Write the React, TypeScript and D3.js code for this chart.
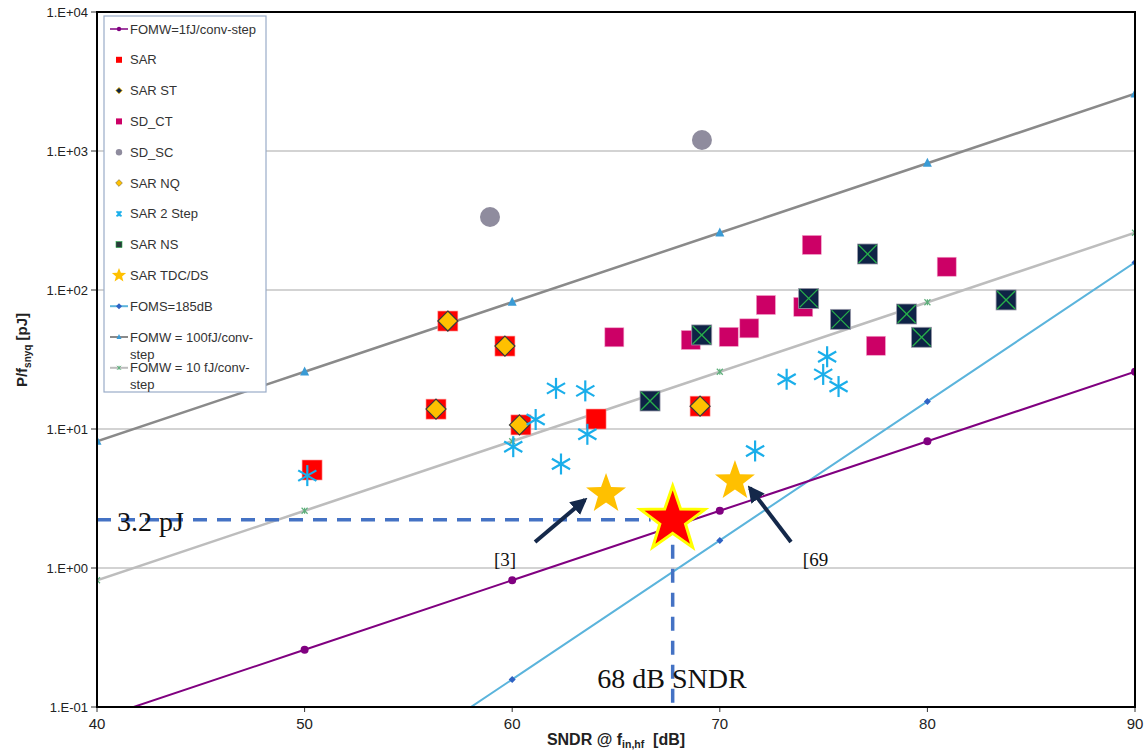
import React from "react";
import * as d3 from "d3";

// ---------- data ----------
const sndrGrid = [40, 50, 60, 70, 80, 90];
const fomw1 = [0.0817, 0.258, 0.817, 2.58, 8.17, 25.8];
const fomw10 = [0.817, 2.58, 8.17, 25.8, 81.7, 258];
const fomw100 = [8.17, 25.8, 81.7, 258, 817, 2580];
const foms185 = [0.00158, 0.0158, 0.158, 1.58, 15.8, 158];

const yTickVals = [0.1, 1, 10, 100, 1000, 10000];
const yTickLabels = ["1.E-01", "1.E+00", "1.E+01", "1.E+02", "1.E+03", "1.E+04"];
const xTickVals = [40, 50, 60, 70, 80, 90];

const sarPts: [number, number][] = [
  [50.36, 5.07], [56.33, 13.9], [56.9, 59.8], [59.65, 39.5], [60.42, 10.7], [64.04, 11.8], [69.05, 14.6],
];
const sarNqPts: [number, number][] = [
  [56.33, 13.9], [56.9, 59.8], [59.65, 39.5], [60.35, 10.7], [69.05, 14.6],
];
const sdCtPts: [number, number][] = [
  [64.92, 45.7], [68.6, 43.7], [70.43, 46], [71.42, 53], [72.22, 78], [74.02, 75.6], [74.43, 211], [77.52, 39.7], [80.93, 147],
];
const sdScPts: [number, number][] = [
  [58.93, 335], [69.14, 1200],
];
const sarNsPts: [number, number][] = [
  [66.64, 15.9], [69.13, 47.5], [74.28, 87], [75.82, 61.5], [77.12, 181.6], [79.0, 67.2], [79.72, 45.7], [83.79, 84.8],
];
const sar2StepPts: [number, number][] = [
  [50.13, 4.62], [60.05, 7.46], [61.13, 11.7], [62.11, 19.6], [62.35, 5.6], [63.52, 18.8], [63.62, 9.16],
  [71.7, 6.95], [73.22, 22.8], [74.98, 24.7], [75.17, 33.1], [75.72, 20.2],
];
const tdcPts: [number, number][] = [
  [64.52, 3.41], [70.73, 4.22],
];
const thisWork: [number, number] = [67.73, 2.22];

const arrows: [number, number, number, number][] = [
  [61.1, 1.54, 63.5, 3.09],
  [73.43, 1.54, 71.45, 3.76],
];

const legendItems = [
  { label: ["FOMW=1fJ/conv-step"], kind: "l1" },
  { label: ["SAR"], kind: "sar" },
  { label: ["SAR ST"], kind: "sarst" },
  { label: ["SD_CT"], kind: "sdct" },
  { label: ["SD_SC"], kind: "sdsc" },
  { label: ["SAR NQ"], kind: "sarnq" },
  { label: ["SAR 2 Step"], kind: "sar2" },
  { label: ["SAR NS"], kind: "sarns" },
  { label: ["SAR TDC/DS"], kind: "tdc" },
  { label: ["FOMS=185dB"], kind: "foms" },
  { label: ["FOMW = 100fJ/conv-", "step"], kind: "l100" },
  { label: ["FOMW = 10 fJ/conv-", "step"], kind: "l10" },
];

// ---------- layout ----------
const W = 1146, H = 754;
const X0 = 97, X1 = 1135, Y0 = 12, Y1 = 707;
const x = d3.scaleLinear().domain([40, 90]).range([X0, X1]);
const y = d3.scaleLog().domain([0.1, 10000]).range([Y1, Y0]);

const C = {
  purple: "#800080",
  gray100: "#8A8A8A",
  gray10: "#BDBDBD",
  foms: "#5BB4DC",
  fomsMk: "#2F62C4",
  tri: "#3A9BD5",
  green: "#5DAE7A",
  red: "#FF0000",
  gold: "#FFC000",
  magenta: "#CC0066",
  sdsc: "#8F8C9E",
  cyan: "#1AAEEA",
  navy: "#0E2346",
  nsX: "#27B04A",
  dash: "#4472C4",
  arrow: "#14284A",
};

const starPath = (R: number, r: number) => {
  const pts: string[] = [];
  for (let i = 0; i < 10; i++) {
    const a = -Math.PI / 2 + (i * Math.PI) / 5;
    const rr = i % 2 === 0 ? R : r;
    pts.push(`${(rr * Math.cos(a)).toFixed(2)},${(rr * Math.sin(a)).toFixed(2)}`);
  }
  return "M" + pts.join("L") + "Z";
};

const Asterisk = ({ cx, cy, s, color, w }: any) => {
  const a = s / 2;
  const dx = a * Math.cos(Math.PI / 6), dy = a * Math.sin(Math.PI / 6);
  return (
    <g stroke={color} strokeWidth={w} strokeLinecap="butt">
      <line x1={cx} y1={cy - a} x2={cx} y2={cy + a} />
      <line x1={cx - dx} y1={cy - dy} x2={cx + dx} y2={cy + dy} />
      <line x1={cx - dx} y1={cy + dy} x2={cx + dx} y2={cy - dy} />
    </g>
  );
};

const XMark = ({ cx, cy, s, color, w }: any) => {
  const a = s / 2;
  return (
    <g stroke={color} strokeWidth={w}>
      <line x1={cx - a} y1={cy - a} x2={cx + a} y2={cy + a} />
      <line x1={cx - a} y1={cy + a} x2={cx + a} y2={cy - a} />
      <line x1={cx} y1={cy - a} x2={cx} y2={cy + a} />
    </g>
  );
};

const Tri = ({ cx, cy, s, color }: any) => (
  <path d={`M${cx},${cy - s * 0.6}L${cx + s / 2},${cy + s * 0.4}L${cx - s / 2},${cy + s * 0.4}Z`} fill={color} />
);

const Diamond = ({ cx, cy, s, fill, stroke, sw }: any) => (
  <path d={`M${cx},${cy - s}L${cx + s},${cy}L${cx},${cy + s}L${cx - s},${cy}Z`} fill={fill} stroke={stroke} strokeWidth={sw} />
);

const lineGen = d3.line<number>().x((_, i) => x(sndrGrid[i])).y((d) => y(d));

const LegendMarker = ({ kind, cx, cy }: any) => {
  const seg = (color: string, w: number) => (
    <line x1={cx - 9} y1={cy} x2={cx + 9} y2={cy} stroke={color} strokeWidth={w} />
  );
  switch (kind) {
    case "l1":
      return <g>{seg(C.purple, 1.5)}<circle cx={cx} cy={cy} r={2.2} fill={C.purple} /></g>;
    case "sar":
      return <rect x={cx - 3} y={cy - 3} width={6} height={6} fill={C.red} />;
    case "sarst":
      return <Diamond cx={cx} cy={cy} s={3.2} fill={C.navy} stroke={C.gold} sw={0.8} />;
    case "sdct":
      return <rect x={cx - 3} y={cy - 3} width={6} height={6} fill={C.magenta} />;
    case "sdsc":
      return <circle cx={cx} cy={cy} r={3.2} fill={C.sdsc} />;
    case "sarnq":
      return <Diamond cx={cx} cy={cy} s={3.4} fill={C.gold} stroke="#555" sw={0.5} />;
    case "sar2":
      return <XMark cx={cx} cy={cy} s={5} color={C.cyan} w={1.8} />;
    case "sarns":
      return <rect x={cx - 3} y={cy - 3} width={6} height={6} fill="#2A3A3A" stroke={C.nsX} strokeWidth={0.6} />;
    case "tdc":
      return <path d={starPath(7.5, 3.2)} transform={`translate(${cx},${cy})`} fill={C.gold} />;
    case "foms":
      return <g>{seg(C.foms, 2)}<Diamond cx={cx} cy={cy} s={3} fill={C.fomsMk} stroke="none" sw={0} /></g>;
    case "l100":
      return <g>{seg(C.gray100, 2)}<Tri cx={cx} cy={cy} s={5} color={C.tri} /></g>;
    case "l10":
      return <g>{seg(C.gray10, 2)}<XMark cx={cx} cy={cy} s={4} color={C.green} w={1} /></g>;
  }
  return null;
};

export default function App() {
  const sans = "'Liberation Sans', Arial, sans-serif";
  const serif = "'Liberation Serif', 'Times New Roman', serif";
  const narrow = "'Liberation Sans Narrow', 'Liberation Sans', Arial, sans-serif";
  const [sx, sy] = thisWork;
  return (
    <svg width={W} height={H} style={{ position: "absolute", left: 0, top: 0, background: "#fff" }}>
      <defs>
        <clipPath id="plot">
          <rect x={X0} y={Y0} width={X1 - X0} height={Y1 - Y0} />
        </clipPath>
        <marker id="ah" viewBox="0 0 10 10" refX="8" refY="5" markerWidth="4.2" markerHeight="4.2" orient="auto">
          <path d="M0,0L10,5L0,10Z" fill={C.arrow} />
        </marker>
      </defs>
      <rect width={W} height={H} fill="#fff" />

      {/* gridlines */}
      {yTickVals.slice(1, -1).map((v) => (
        <line key={v} x1={X0} x2={X1} y1={y(v)} y2={y(v)} stroke="#C4C4C4" strokeWidth={1.5} />
      ))}
      {/* ticks */}
      {yTickVals.map((v, i) => (
        <g key={"yt" + v}>
          <line x1={X0 - 6} x2={X0} y1={y(v)} y2={y(v)} stroke="#333" strokeWidth={1} />
          <text x={X0 - 9} y={y(v) + 4.5} textAnchor="end" fontFamily={sans} fontSize={13} fill="#222">
            {yTickLabels[i]}
          </text>
        </g>
      ))}
      {xTickVals.map((v) => (
        <g key={"xt" + v}>
          <line x1={x(v)} x2={x(v)} y1={Y1} y2={Y1 + 5} stroke="#333" strokeWidth={1} />
          <text x={x(v)} y={Y1 + 22} textAnchor="middle" fontFamily={narrow} fontSize={15} fill="#222">
            {v}
          </text>
        </g>
      ))}

      <g clipPath="url(#plot)">
        {/* reference lines */}
        <path d={lineGen(fomw100) || ""} fill="none" stroke={C.gray100} strokeWidth={2.5} />
        <path d={lineGen(fomw10) || ""} fill="none" stroke={C.gray10} strokeWidth={2.5} />
        <path d={lineGen(foms185) || ""} fill="none" stroke={C.foms} strokeWidth={2} />
        <path d={lineGen(fomw1) || ""} fill="none" stroke={C.purple} strokeWidth={2} />
        {fomw100.map((v, i) => <Tri key={"t" + i} cx={x(sndrGrid[i])} cy={y(v)} s={9} color={C.tri} />)}
        {fomw10.map((v, i) => <XMark key={"g" + i} cx={x(sndrGrid[i])} cy={y(v)} s={6} color={C.green} w={1.2} />)}
        {foms185.map((v, i) => <Diamond key={"d" + i} cx={x(sndrGrid[i])} cy={y(v)} s={3.5} fill={C.fomsMk} stroke="none" sw={0} />)}
        {fomw1.map((v, i) => <circle key={"c" + i} cx={x(sndrGrid[i])} cy={y(v)} r={4} fill={C.purple} />)}

        {/* scatter */}
        {sdScPts.map(([a, b], i) => <circle key={"sc" + i} cx={x(a)} cy={y(b)} r={10} fill={C.sdsc} />)}
        {sdCtPts.map(([a, b], i) => (
          <rect key={"ct" + i} x={x(a) - 9.5} y={y(b) - 9.5} width={19} height={19} fill={C.magenta} stroke="#F2A0C8" strokeWidth={0.6} />
        ))}
        {sarPts.map(([a, b], i) => (
          <rect key={"sar" + i} x={x(a) - 10} y={y(b) - 10} width={20} height={20} fill={C.red} stroke="#FF9A9A" strokeWidth={0.6} />
        ))}
        {sarNqPts.map(([a, b], i) => (
          <Diamond key={"nq" + i} cx={x(a)} cy={y(b)} s={10} fill={C.gold} stroke="#3A3A3A" sw={1.2} />
        ))}
        {sarNsPts.map(([a, b], i) => (
          <g key={"ns" + i}>
            <rect x={x(a) - 10} y={y(b) - 10} width={20} height={20} fill={C.navy} stroke="#9A9AAA" strokeWidth={0.8} />
            <line x1={x(a) - 9} y1={y(b) - 9} x2={x(a) + 9} y2={y(b) + 9} stroke={C.nsX} strokeWidth={1.3} />
            <line x1={x(a) - 9} y1={y(b) + 9} x2={x(a) + 9} y2={y(b) - 9} stroke={C.nsX} strokeWidth={1.3} />
          </g>
        ))}
        {sar2StepPts.map(([a, b], i) => (
          <Asterisk key={"s2" + i} cx={x(a)} cy={y(b)} s={21} color={C.cyan} w={2.2} />
        ))}
        {tdcPts.map(([a, b], i) => (
          <path key={"st" + i} d={starPath(21, 8.5)} transform={`translate(${x(a)},${y(b)})`} fill={C.gold} />
        ))}

        {/* annotation dashed lines */}
        <line x1={X0} x2={x(sx) - 22} y1={y(sy)} y2={y(sy)} stroke={C.dash} strokeWidth={3.5} strokeDasharray="14,10" />
        <line x1={x(sx)} x2={x(sx)} y1={y(sy) + 25} y2={Y1} stroke={C.dash} strokeWidth={3.5} strokeDasharray="14,10" />

        <path d={starPath(34, 13.5)} transform={`translate(${x(sx)},${y(sy)})`} fill={C.red} stroke="#FFFF00" strokeWidth={3} />

        {arrows.map(([a, b, c, d], i) => (
          <line key={"ar" + i} x1={x(a)} y1={y(b)} x2={x(c)} y2={y(d)} stroke={C.arrow} strokeWidth={4} markerEnd="url(#ah)" />
        ))}
      </g>

      {/* annotation text */}
      <text x={x(40.96)} y={y(1.85)} fontFamily={serif} fontSize={28} fill="#111">3.2 pJ</text>
      <text x={x(59.12)} y={y(1.03)} fontFamily={serif} fontSize={19} fill="#111">[3]</text>
      <text x={x(74.0)} y={y(1.03)} fontFamily={serif} fontSize={19} fill="#111">[69</text>
      <text x={x(67.7)} y={y(0.137)} textAnchor="middle" fontFamily={serif} fontSize={28} fill="#111">68 dB SNDR</text>

      {/* frame */}
      <rect x={X0} y={Y0} width={X1 - X0} height={Y1 - Y0} fill="none" stroke="#000" strokeWidth={2} />

      {/* legend */}
      <g>
        <rect x={104} y={16} width={162} height={376} fill="#fff" stroke="#9AACC8" strokeWidth={1.2} />
        {legendItems.map((it, i) => {
          const cy = 29 + i * 30.8;
          return (
            <g key={"lg" + i}>
              <LegendMarker kind={it.kind} cx={119} cy={cy} />
              {it.label.map((t, j) => (
                <text key={j} x={130} y={cy + 4.5 + j * 17} fontFamily={sans} fontSize={13} fill="#333">{t}</text>
              ))}
            </g>
          );
        })}
      </g>

      {/* axis titles */}
      <text transform={`translate(27,350) rotate(-90)`} textAnchor="middle" fontFamily={sans} fontSize={15} fontWeight="bold" fill="#222">
        P/f<tspan fontSize={10} dy={4}>snyq</tspan><tspan dy={-4}> [pJ]</tspan>
      </text>
      <text x={616} y={745} textAnchor="middle" fontFamily={sans} fontSize={16} fontWeight="bold" fill="#222">
        SNDR @ f<tspan fontSize={10.5} dy={3}>in,hf</tspan><tspan dy={-3}>{"\u00a0\u00a0"}[dB]</tspan>
      </text>
    </svg>
  );
}
